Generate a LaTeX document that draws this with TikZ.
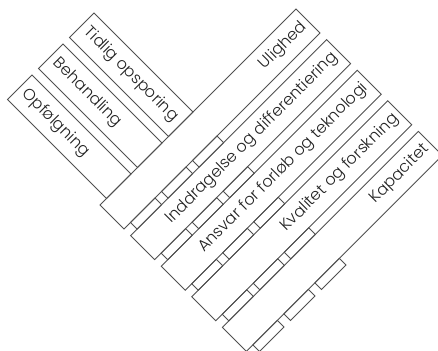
\documentclass[tikz,border=0pt]{standalone}
\usepackage{fontspec}
\setmainfont{Poppins Light}
\definecolor{linec}{HTML}{505050}
\definecolor{textc}{HTML}{222222}
\tikzset{
  boxline/.style={draw=linec, line width=0.9pt, line join=miter},
  collabel/.style={rotate=45, anchor=east, inner sep=0pt, text=textc,
    font=\fontsize{16}{18}\selectfont},
  rowlabel/.style={rotate=-45, anchor=west, inner sep=0pt, text=textc,
    font=\fontsize{16}{18}\selectfont},
}
% box in (U,V) coordinates: U from #1 to #2, V from #3 to #4
\newcommand\uvbox[4]{\draw[boxline] (#1,#3) -- (#2,#3) -- (#2,#4) -- (#1,#4) -- cycle;}
\begin{document}
\begin{tikzpicture}[x=1pt,y=1pt]
\useasboundingbox (0,0) rectangle (438,-350);
\fill[white] (0,0) rectangle (438,-350);
\clip (0,0) rectangle (438,-350);
\begin{scope}[x={(0.5pt,0.5pt)}, y={(0.5pt,-0.5pt)}]
  % column boxes (long along U)
  \foreach \i/\t in {0/Ulighed, 1/Inddragelse og differentiering, 2/Ansvar for forløb og teknologi, 3/Kvalitet og forskning, 4/Kapacitet}{
    \pgfmathsetmacro\va{305+61.2*\i}
    \pgfmathsetmacro\vb{\va+48}
    \pgfmathsetmacro\vc{\va+61.2}
    \uvbox{-105}{287}{\va}{\vb}
    \foreach \j in {0,1,2}{
      \pgfmathsetmacro\ua{-92+62*\j}
      \pgfmathsetmacro\ub{\ua+49}
      \uvbox{\ua}{\ub}{\vb}{\vc}
    }
    \node[collabel] (c\i) at (280,{\va+24}) {\t};
  }
  % row boxes (long along V)
  \foreach \j/\t in {0/Opfølgning, 1/Behandling, 2/Tidlig opsporing}{
    \pgfmathsetmacro\ua{-92+62*\j}
    \pgfmathsetmacro\ub{\ua+49}
    \uvbox{\ua}{\ub}{107}{305}
    \node[rowlabel] (r\j) at ({\ua+24.5},116) {\t};
  }
\end{scope}
\end{tikzpicture}
\end{document}
